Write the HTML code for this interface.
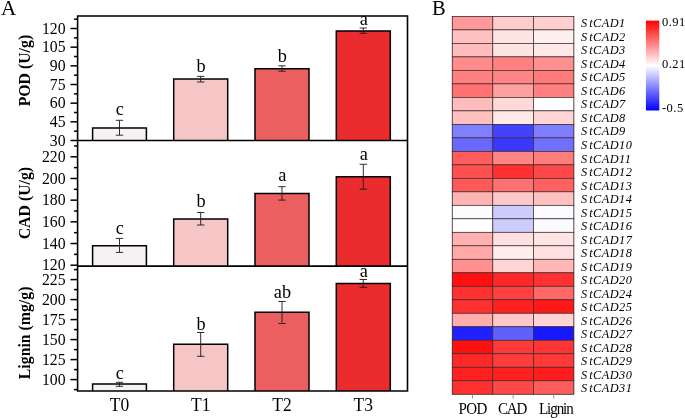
<!DOCTYPE html>
<html><head><meta charset="utf-8"><title>Figure</title>
<style>html,body{margin:0;padding:0;background:#fff;}body{width:685px;height:418px;overflow:hidden;}svg{display:block;will-change:transform;}text{font-family:"Liberation Serif",serif;fill:#000;}</style>
</head><body>
<svg width="685" height="418" viewBox="0 0 685 418">
<rect x="0" y="0" width="685" height="418" fill="#ffffff"/>
<rect x="92.60" y="128.00" width="53.80" height="12.50" fill="#f7f2f2"/>
<path d="M92.60 140.50V128.00H146.40V140.50" fill="none" stroke="#000" stroke-width="1.5" stroke-linejoin="miter"/>
<rect x="173.70" y="79.10" width="54.00" height="61.40" fill="#f6c5c5"/>
<path d="M173.70 140.50V79.10H227.70V140.50" fill="none" stroke="#000" stroke-width="1.5" stroke-linejoin="miter"/>
<rect x="255.00" y="68.70" width="54.00" height="71.80" fill="#ec5f60"/>
<path d="M255.00 140.50V68.70H309.00V140.50" fill="none" stroke="#000" stroke-width="1.5" stroke-linejoin="miter"/>
<rect x="336.30" y="30.90" width="54.00" height="109.60" fill="#eb2c2f"/>
<path d="M336.30 140.50V30.90H390.30V140.50" fill="none" stroke="#000" stroke-width="1.5" stroke-linejoin="miter"/>
<path d="M119.50 120.30V135.20M115.80 120.30H123.20M115.80 135.20H123.20" stroke="#1a1a1a" stroke-width="0.9" fill="none"/>
<path d="M200.70 76.40V82.00M197.00 76.40H204.40M197.00 82.00H204.40" stroke="#1a1a1a" stroke-width="0.9" fill="none"/>
<path d="M282.00 65.80V71.20M278.30 65.80H285.70M278.30 71.20H285.70" stroke="#1a1a1a" stroke-width="0.9" fill="none"/>
<path d="M363.30 28.00V33.30M359.60 28.00H367.00M359.60 33.30H367.00" stroke="#1a1a1a" stroke-width="0.9" fill="none"/>
<text x="119.90" y="114.90" font-size="18.3" text-anchor="middle">c</text>
<text x="201.10" y="71.70" font-size="18.3" text-anchor="middle">b</text>
<text x="282.40" y="61.90" font-size="18.3" text-anchor="middle">b</text>
<text x="363.70" y="25.10" font-size="18.3" text-anchor="middle">a</text>
<rect x="92.60" y="245.70" width="53.80" height="20.40" fill="#f7f2f2"/>
<path d="M92.60 266.10V245.70H146.40V266.10" fill="none" stroke="#000" stroke-width="1.5" stroke-linejoin="miter"/>
<rect x="173.70" y="218.90" width="54.00" height="47.20" fill="#f6c5c5"/>
<path d="M173.70 266.10V218.90H227.70V266.10" fill="none" stroke="#000" stroke-width="1.5" stroke-linejoin="miter"/>
<rect x="255.00" y="193.60" width="54.00" height="72.50" fill="#ec5f60"/>
<path d="M255.00 266.10V193.60H309.00V266.10" fill="none" stroke="#000" stroke-width="1.5" stroke-linejoin="miter"/>
<rect x="336.30" y="176.80" width="54.00" height="89.30" fill="#eb2c2f"/>
<path d="M336.30 266.10V176.80H390.30V266.10" fill="none" stroke="#000" stroke-width="1.5" stroke-linejoin="miter"/>
<path d="M119.50 238.40V252.40M115.80 238.40H123.20M115.80 252.40H123.20" stroke="#1a1a1a" stroke-width="0.9" fill="none"/>
<path d="M200.70 212.50V225.00M197.00 212.50H204.40M197.00 225.00H204.40" stroke="#1a1a1a" stroke-width="0.9" fill="none"/>
<path d="M282.00 186.70V200.10M278.30 186.70H285.70M278.30 200.10H285.70" stroke="#1a1a1a" stroke-width="0.9" fill="none"/>
<path d="M363.30 164.30V189.20M359.60 164.30H367.00M359.60 189.20H367.00" stroke="#1a1a1a" stroke-width="0.9" fill="none"/>
<text x="119.90" y="234.00" font-size="18.3" text-anchor="middle">c</text>
<text x="201.10" y="206.90" font-size="18.3" text-anchor="middle">b</text>
<text x="282.40" y="181.40" font-size="18.3" text-anchor="middle">a</text>
<text x="363.70" y="159.60" font-size="18.3" text-anchor="middle">a</text>
<rect x="92.60" y="384.10" width="53.80" height="6.85" fill="#f7f2f2"/>
<path d="M92.60 390.95V384.10H146.40V390.95" fill="none" stroke="#000" stroke-width="1.5" stroke-linejoin="miter"/>
<rect x="173.70" y="344.20" width="54.00" height="46.75" fill="#f6c5c5"/>
<path d="M173.70 390.95V344.20H227.70V390.95" fill="none" stroke="#000" stroke-width="1.5" stroke-linejoin="miter"/>
<rect x="255.00" y="312.20" width="54.00" height="78.75" fill="#ec5f60"/>
<path d="M255.00 390.95V312.20H309.00V390.95" fill="none" stroke="#000" stroke-width="1.5" stroke-linejoin="miter"/>
<rect x="336.30" y="283.40" width="54.00" height="107.55" fill="#eb2c2f"/>
<path d="M336.30 390.95V283.40H390.30V390.95" fill="none" stroke="#000" stroke-width="1.5" stroke-linejoin="miter"/>
<path d="M119.50 382.30V386.30M115.80 382.30H123.20M115.80 386.30H123.20" stroke="#1a1a1a" stroke-width="0.9" fill="none"/>
<path d="M200.70 332.50V356.30M197.00 332.50H204.40M197.00 356.30H204.40" stroke="#1a1a1a" stroke-width="0.9" fill="none"/>
<path d="M282.00 301.50V323.50M278.30 301.50H285.70M278.30 323.50H285.70" stroke="#1a1a1a" stroke-width="0.9" fill="none"/>
<path d="M363.30 279.50V287.40M359.60 279.50H367.00M359.60 287.40H367.00" stroke="#1a1a1a" stroke-width="0.9" fill="none"/>
<text x="119.90" y="378.70" font-size="18.3" text-anchor="middle">c</text>
<text x="201.10" y="329.70" font-size="18.3" text-anchor="middle">b</text>
<text x="282.40" y="297.80" font-size="18.3" text-anchor="middle">ab</text>
<text x="363.70" y="277.20" font-size="18.3" text-anchor="middle">a</text>
<path d="M77.6 16.0H407.5V390.95H77.6Z M77.6 140.5H407.5 M77.6 266.1H407.5" stroke="#000" stroke-width="1.6" fill="none"/>
<path d="M70.50 28.50H77.60" stroke="#000" stroke-width="1.5"/>
<text transform="translate(65.5,33.70) scale(0.944,1)" font-size="16.7" text-anchor="end">120</text>
<path d="M70.50 47.17H77.60" stroke="#000" stroke-width="1.5"/>
<text transform="translate(65.5,52.37) scale(0.944,1)" font-size="16.7" text-anchor="end">105</text>
<path d="M70.50 65.84H77.60" stroke="#000" stroke-width="1.5"/>
<text transform="translate(65.5,71.04) scale(0.944,1)" font-size="16.7" text-anchor="end">90</text>
<path d="M70.50 84.50H77.60" stroke="#000" stroke-width="1.5"/>
<text transform="translate(65.5,89.70) scale(0.944,1)" font-size="16.7" text-anchor="end">75</text>
<path d="M70.50 103.17H77.60" stroke="#000" stroke-width="1.5"/>
<text transform="translate(65.5,108.37) scale(0.944,1)" font-size="16.7" text-anchor="end">60</text>
<path d="M70.50 121.83H77.60" stroke="#000" stroke-width="1.5"/>
<text transform="translate(65.5,127.03) scale(0.944,1)" font-size="16.7" text-anchor="end">45</text>
<path d="M70.50 140.50H77.60" stroke="#000" stroke-width="1.5"/>
<text transform="translate(65.5,145.70) scale(0.944,1)" font-size="16.7" text-anchor="end">30</text>
<path d="M74.00 131.17H77.60" stroke="#000" stroke-width="1.5"/>
<path d="M74.00 112.50H77.60" stroke="#000" stroke-width="1.5"/>
<path d="M74.00 93.84H77.60" stroke="#000" stroke-width="1.5"/>
<path d="M74.00 75.17H77.60" stroke="#000" stroke-width="1.5"/>
<path d="M74.00 56.50H77.60" stroke="#000" stroke-width="1.5"/>
<path d="M74.00 37.84H77.60" stroke="#000" stroke-width="1.5"/>
<path d="M74.00 19.17H77.60" stroke="#000" stroke-width="1.5"/>
<path d="M70.50 156.80H77.60" stroke="#000" stroke-width="1.5"/>
<text transform="translate(65.5,162.00) scale(0.944,1)" font-size="16.7" text-anchor="end">220</text>
<path d="M70.50 178.48H77.60" stroke="#000" stroke-width="1.5"/>
<text transform="translate(65.5,183.68) scale(0.944,1)" font-size="16.7" text-anchor="end">200</text>
<path d="M70.50 200.16H77.60" stroke="#000" stroke-width="1.5"/>
<text transform="translate(65.5,205.36) scale(0.944,1)" font-size="16.7" text-anchor="end">180</text>
<path d="M70.50 221.84H77.60" stroke="#000" stroke-width="1.5"/>
<text transform="translate(65.5,227.04) scale(0.944,1)" font-size="16.7" text-anchor="end">160</text>
<path d="M70.50 243.52H77.60" stroke="#000" stroke-width="1.5"/>
<text transform="translate(65.5,248.72) scale(0.944,1)" font-size="16.7" text-anchor="end">140</text>
<path d="M70.50 265.20H77.60" stroke="#000" stroke-width="1.5"/>
<text transform="translate(65.5,270.40) scale(0.944,1)" font-size="16.7" text-anchor="end">120</text>
<path d="M74.00 254.36H77.60" stroke="#000" stroke-width="1.5"/>
<path d="M74.00 232.68H77.60" stroke="#000" stroke-width="1.5"/>
<path d="M74.00 211.00H77.60" stroke="#000" stroke-width="1.5"/>
<path d="M74.00 189.32H77.60" stroke="#000" stroke-width="1.5"/>
<path d="M74.00 167.64H77.60" stroke="#000" stroke-width="1.5"/>
<path d="M74.00 145.96H77.60" stroke="#000" stroke-width="1.5"/>
<path d="M70.50 279.60H77.60" stroke="#000" stroke-width="1.5"/>
<text transform="translate(65.5,284.80) scale(0.944,1)" font-size="16.7" text-anchor="end">225</text>
<path d="M70.50 299.60H77.60" stroke="#000" stroke-width="1.5"/>
<text transform="translate(65.5,304.80) scale(0.944,1)" font-size="16.7" text-anchor="end">200</text>
<path d="M70.50 319.60H77.60" stroke="#000" stroke-width="1.5"/>
<text transform="translate(65.5,324.80) scale(0.944,1)" font-size="16.7" text-anchor="end">175</text>
<path d="M70.50 339.60H77.60" stroke="#000" stroke-width="1.5"/>
<text transform="translate(65.5,344.80) scale(0.944,1)" font-size="16.7" text-anchor="end">150</text>
<path d="M70.50 359.60H77.60" stroke="#000" stroke-width="1.5"/>
<text transform="translate(65.5,364.80) scale(0.944,1)" font-size="16.7" text-anchor="end">125</text>
<path d="M70.50 379.60H77.60" stroke="#000" stroke-width="1.5"/>
<text transform="translate(65.5,384.80) scale(0.944,1)" font-size="16.7" text-anchor="end">100</text>
<path d="M74.00 389.60H77.60" stroke="#000" stroke-width="1.5"/>
<path d="M74.00 369.60H77.60" stroke="#000" stroke-width="1.5"/>
<path d="M74.00 349.60H77.60" stroke="#000" stroke-width="1.5"/>
<path d="M74.00 329.60H77.60" stroke="#000" stroke-width="1.5"/>
<path d="M74.00 309.60H77.60" stroke="#000" stroke-width="1.5"/>
<path d="M74.00 289.60H77.60" stroke="#000" stroke-width="1.5"/>
<path d="M74.00 269.60H77.60" stroke="#000" stroke-width="1.5"/>
<text transform="translate(30.3,70.6) rotate(-90)" font-size="15.8" font-weight="bold" text-anchor="middle">POD (U/g)</text>
<text transform="translate(30.3,203.1) rotate(-90)" font-size="15.8" font-weight="bold" text-anchor="middle">CAD (U/g)</text>
<text transform="translate(30.3,332.9) rotate(-90)" font-size="15.8" font-weight="bold" text-anchor="middle">Lignin (mg/g)</text>
<text transform="translate(119.50,411.0) scale(0.93,1)" font-size="18.8" text-anchor="middle">T0</text>
<text transform="translate(200.70,411.0) scale(0.93,1)" font-size="18.8" text-anchor="middle">T1</text>
<text transform="translate(282.00,411.0) scale(0.93,1)" font-size="18.8" text-anchor="middle">T2</text>
<text transform="translate(363.30,411.0) scale(0.93,1)" font-size="18.8" text-anchor="middle">T3</text>
<text transform="translate(1.0,14.9) scale(0.96,1)" font-size="22">A</text>
<text x="432.0" y="14.6" font-size="20.5">B</text>
<rect x="452.20" y="16.40" width="40.60" height="13.49" fill="#ff9999" stroke="#3a2a2a" stroke-width="0.7"/>
<rect x="492.80" y="16.40" width="40.70" height="13.49" fill="#ffcccc" stroke="#3a2a2a" stroke-width="0.7"/>
<rect x="533.50" y="16.40" width="40.40" height="13.49" fill="#ffcfcf" stroke="#3a2a2a" stroke-width="0.7"/>
<text transform="translate(581.0,27.35) scale(0.92,1)" font-size="13.4" font-style="italic" letter-spacing="0.5" fill="#111">S<tspan dx="1.75">tCAD1</tspan></text>
<rect x="452.20" y="29.89" width="40.60" height="13.49" fill="#ffc0c0" stroke="#3a2a2a" stroke-width="0.7"/>
<rect x="492.80" y="29.89" width="40.70" height="13.49" fill="#ffe4e4" stroke="#3a2a2a" stroke-width="0.7"/>
<rect x="533.50" y="29.89" width="40.40" height="13.49" fill="#fff0f0" stroke="#3a2a2a" stroke-width="0.7"/>
<text transform="translate(581.0,40.87) scale(0.92,1)" font-size="13.4" font-style="italic" letter-spacing="0.5" fill="#111">S<tspan dx="1.75">tCAD2</tspan></text>
<rect x="452.20" y="43.39" width="40.60" height="13.49" fill="#ffbcbc" stroke="#3a2a2a" stroke-width="0.7"/>
<rect x="492.80" y="43.39" width="40.70" height="13.49" fill="#ffe4e4" stroke="#3a2a2a" stroke-width="0.7"/>
<rect x="533.50" y="43.39" width="40.40" height="13.49" fill="#ffe8e8" stroke="#3a2a2a" stroke-width="0.7"/>
<text transform="translate(581.0,54.39) scale(0.92,1)" font-size="13.4" font-style="italic" letter-spacing="0.5" fill="#111">S<tspan dx="1.75">tCAD3</tspan></text>
<rect x="452.20" y="56.88" width="40.60" height="13.49" fill="#ff8c8c" stroke="#3a2a2a" stroke-width="0.7"/>
<rect x="492.80" y="56.88" width="40.70" height="13.49" fill="#ff8080" stroke="#3a2a2a" stroke-width="0.7"/>
<rect x="533.50" y="56.88" width="40.40" height="13.49" fill="#ff9090" stroke="#3a2a2a" stroke-width="0.7"/>
<text transform="translate(581.0,67.90) scale(0.92,1)" font-size="13.4" font-style="italic" letter-spacing="0.5" fill="#111">S<tspan dx="1.75">tCAD4</tspan></text>
<rect x="452.20" y="70.38" width="40.60" height="13.49" fill="#ff8080" stroke="#3a2a2a" stroke-width="0.7"/>
<rect x="492.80" y="70.38" width="40.70" height="13.49" fill="#ff8585" stroke="#3a2a2a" stroke-width="0.7"/>
<rect x="533.50" y="70.38" width="40.40" height="13.49" fill="#ff7b7b" stroke="#3a2a2a" stroke-width="0.7"/>
<text transform="translate(581.0,81.42) scale(0.92,1)" font-size="13.4" font-style="italic" letter-spacing="0.5" fill="#111">S<tspan dx="1.75">tCAD5</tspan></text>
<rect x="452.20" y="83.87" width="40.60" height="13.49" fill="#ff7070" stroke="#3a2a2a" stroke-width="0.7"/>
<rect x="492.80" y="83.87" width="40.70" height="13.49" fill="#ffa0a0" stroke="#3a2a2a" stroke-width="0.7"/>
<rect x="533.50" y="83.87" width="40.40" height="13.49" fill="#ff8080" stroke="#3a2a2a" stroke-width="0.7"/>
<text transform="translate(581.0,94.94) scale(0.92,1)" font-size="13.4" font-style="italic" letter-spacing="0.5" fill="#111">S<tspan dx="1.75">tCAD6</tspan></text>
<rect x="452.20" y="97.37" width="40.60" height="13.49" fill="#ffbcbc" stroke="#3a2a2a" stroke-width="0.7"/>
<rect x="492.80" y="97.37" width="40.70" height="13.49" fill="#ffd8d8" stroke="#3a2a2a" stroke-width="0.7"/>
<rect x="533.50" y="97.37" width="40.40" height="13.49" fill="#ffffff" stroke="#3a2a2a" stroke-width="0.7"/>
<text transform="translate(581.0,108.46) scale(0.92,1)" font-size="13.4" font-style="italic" letter-spacing="0.5" fill="#111">S<tspan dx="1.75">tCAD7</tspan></text>
<rect x="452.20" y="110.86" width="40.60" height="13.49" fill="#ffc0c0" stroke="#3a2a2a" stroke-width="0.7"/>
<rect x="492.80" y="110.86" width="40.70" height="13.49" fill="#ffe8e8" stroke="#3a2a2a" stroke-width="0.7"/>
<rect x="533.50" y="110.86" width="40.40" height="13.49" fill="#ffd4d4" stroke="#3a2a2a" stroke-width="0.7"/>
<text transform="translate(581.0,121.98) scale(0.92,1)" font-size="13.4" font-style="italic" letter-spacing="0.5" fill="#111">S<tspan dx="1.75">tCAD8</tspan></text>
<rect x="452.20" y="124.36" width="40.60" height="13.49" fill="#8080ff" stroke="#3a2a2a" stroke-width="0.7"/>
<rect x="492.80" y="124.36" width="40.70" height="13.49" fill="#4242ff" stroke="#3a2a2a" stroke-width="0.7"/>
<rect x="533.50" y="124.36" width="40.40" height="13.49" fill="#7e7eff" stroke="#3a2a2a" stroke-width="0.7"/>
<text transform="translate(581.0,135.49) scale(0.92,1)" font-size="13.4" font-style="italic" letter-spacing="0.5" fill="#111">S<tspan dx="1.75">tCAD9</tspan></text>
<rect x="452.20" y="137.85" width="40.60" height="13.49" fill="#6868ff" stroke="#3a2a2a" stroke-width="0.7"/>
<rect x="492.80" y="137.85" width="40.70" height="13.49" fill="#3838ff" stroke="#3a2a2a" stroke-width="0.7"/>
<rect x="533.50" y="137.85" width="40.40" height="13.49" fill="#7070ff" stroke="#3a2a2a" stroke-width="0.7"/>
<text transform="translate(581.0,149.01) scale(0.92,1)" font-size="13.4" font-style="italic" letter-spacing="0.5" fill="#111">S<tspan dx="1.75">tCAD10</tspan></text>
<rect x="452.20" y="151.35" width="40.60" height="13.49" fill="#ff5c5c" stroke="#3a2a2a" stroke-width="0.7"/>
<rect x="492.80" y="151.35" width="40.70" height="13.49" fill="#ff8484" stroke="#3a2a2a" stroke-width="0.7"/>
<rect x="533.50" y="151.35" width="40.40" height="13.49" fill="#ff7c7c" stroke="#3a2a2a" stroke-width="0.7"/>
<text transform="translate(581.0,162.53) scale(0.92,1)" font-size="13.4" font-style="italic" letter-spacing="0.5" fill="#111">S<tspan dx="1.75">tCAD11</tspan></text>
<rect x="452.20" y="164.84" width="40.60" height="13.49" fill="#ff5050" stroke="#3a2a2a" stroke-width="0.7"/>
<rect x="492.80" y="164.84" width="40.70" height="13.49" fill="#ff3030" stroke="#3a2a2a" stroke-width="0.7"/>
<rect x="533.50" y="164.84" width="40.40" height="13.49" fill="#ff4848" stroke="#3a2a2a" stroke-width="0.7"/>
<text transform="translate(581.0,176.05) scale(0.92,1)" font-size="13.4" font-style="italic" letter-spacing="0.5" fill="#111">S<tspan dx="1.75">tCAD12</tspan></text>
<rect x="452.20" y="178.34" width="40.60" height="13.49" fill="#ff5858" stroke="#3a2a2a" stroke-width="0.7"/>
<rect x="492.80" y="178.34" width="40.70" height="13.49" fill="#ff7070" stroke="#3a2a2a" stroke-width="0.7"/>
<rect x="533.50" y="178.34" width="40.40" height="13.49" fill="#ff6060" stroke="#3a2a2a" stroke-width="0.7"/>
<text transform="translate(581.0,189.57) scale(0.92,1)" font-size="13.4" font-style="italic" letter-spacing="0.5" fill="#111">S<tspan dx="1.75">tCAD13</tspan></text>
<rect x="452.20" y="191.83" width="40.60" height="13.49" fill="#ffb4b4" stroke="#3a2a2a" stroke-width="0.7"/>
<rect x="492.80" y="191.83" width="40.70" height="13.49" fill="#ffc8c8" stroke="#3a2a2a" stroke-width="0.7"/>
<rect x="533.50" y="191.83" width="40.40" height="13.49" fill="#ffc0c0" stroke="#3a2a2a" stroke-width="0.7"/>
<text transform="translate(581.0,203.08) scale(0.92,1)" font-size="13.4" font-style="italic" letter-spacing="0.5" fill="#111">S<tspan dx="1.75">tCAD14</tspan></text>
<rect x="452.20" y="205.33" width="40.60" height="13.49" fill="#fcfcff" stroke="#3a2a2a" stroke-width="0.7"/>
<rect x="492.80" y="205.33" width="40.70" height="13.49" fill="#ccccfe" stroke="#3a2a2a" stroke-width="0.7"/>
<rect x="533.50" y="205.33" width="40.40" height="13.49" fill="#fbfbff" stroke="#3a2a2a" stroke-width="0.7"/>
<text transform="translate(581.0,216.60) scale(0.92,1)" font-size="13.4" font-style="italic" letter-spacing="0.5" fill="#111">S<tspan dx="1.75">tCAD15</tspan></text>
<rect x="452.20" y="218.82" width="40.60" height="13.49" fill="#ffffff" stroke="#3a2a2a" stroke-width="0.7"/>
<rect x="492.80" y="218.82" width="40.70" height="13.49" fill="#ccccfe" stroke="#3a2a2a" stroke-width="0.7"/>
<rect x="533.50" y="218.82" width="40.40" height="13.49" fill="#fafaff" stroke="#3a2a2a" stroke-width="0.7"/>
<text transform="translate(581.0,230.12) scale(0.92,1)" font-size="13.4" font-style="italic" letter-spacing="0.5" fill="#111">S<tspan dx="1.75">tCAD16</tspan></text>
<rect x="452.20" y="232.31" width="40.60" height="13.49" fill="#ffb0b0" stroke="#3a2a2a" stroke-width="0.7"/>
<rect x="492.80" y="232.31" width="40.70" height="13.49" fill="#ffe0e0" stroke="#3a2a2a" stroke-width="0.7"/>
<rect x="533.50" y="232.31" width="40.40" height="13.49" fill="#ffe4e4" stroke="#3a2a2a" stroke-width="0.7"/>
<text transform="translate(581.0,243.64) scale(0.92,1)" font-size="13.4" font-style="italic" letter-spacing="0.5" fill="#111">S<tspan dx="1.75">tCAD17</tspan></text>
<rect x="452.20" y="245.81" width="40.60" height="13.49" fill="#ffa8a8" stroke="#3a2a2a" stroke-width="0.7"/>
<rect x="492.80" y="245.81" width="40.70" height="13.49" fill="#ffecec" stroke="#3a2a2a" stroke-width="0.7"/>
<rect x="533.50" y="245.81" width="40.40" height="13.49" fill="#ffe0e0" stroke="#3a2a2a" stroke-width="0.7"/>
<text transform="translate(581.0,257.16) scale(0.92,1)" font-size="13.4" font-style="italic" letter-spacing="0.5" fill="#111">S<tspan dx="1.75">tCAD18</tspan></text>
<rect x="452.20" y="259.30" width="40.60" height="13.49" fill="#ff9090" stroke="#3a2a2a" stroke-width="0.7"/>
<rect x="492.80" y="259.30" width="40.70" height="13.49" fill="#ffd4d4" stroke="#3a2a2a" stroke-width="0.7"/>
<rect x="533.50" y="259.30" width="40.40" height="13.49" fill="#ffb8b8" stroke="#3a2a2a" stroke-width="0.7"/>
<text transform="translate(581.0,270.67) scale(0.92,1)" font-size="13.4" font-style="italic" letter-spacing="0.5" fill="#111">S<tspan dx="1.75">tCAD19</tspan></text>
<rect x="452.20" y="272.80" width="40.60" height="13.49" fill="#ff1010" stroke="#3a2a2a" stroke-width="0.7"/>
<rect x="492.80" y="272.80" width="40.70" height="13.49" fill="#ff2828" stroke="#3a2a2a" stroke-width="0.7"/>
<rect x="533.50" y="272.80" width="40.40" height="13.49" fill="#ff3030" stroke="#3a2a2a" stroke-width="0.7"/>
<text transform="translate(581.0,284.19) scale(0.92,1)" font-size="13.4" font-style="italic" letter-spacing="0.5" fill="#111">S<tspan dx="1.75">tCAD20</tspan></text>
<rect x="452.20" y="286.29" width="40.60" height="13.49" fill="#ff3030" stroke="#3a2a2a" stroke-width="0.7"/>
<rect x="492.80" y="286.29" width="40.70" height="13.49" fill="#ff4040" stroke="#3a2a2a" stroke-width="0.7"/>
<rect x="533.50" y="286.29" width="40.40" height="13.49" fill="#ff6868" stroke="#3a2a2a" stroke-width="0.7"/>
<text transform="translate(581.0,297.71) scale(0.92,1)" font-size="13.4" font-style="italic" letter-spacing="0.5" fill="#111">S<tspan dx="1.75">tCAD24</tspan></text>
<rect x="452.20" y="299.79" width="40.60" height="13.49" fill="#ff3030" stroke="#3a2a2a" stroke-width="0.7"/>
<rect x="492.80" y="299.79" width="40.70" height="13.49" fill="#ff2020" stroke="#3a2a2a" stroke-width="0.7"/>
<rect x="533.50" y="299.79" width="40.40" height="13.49" fill="#ff1818" stroke="#3a2a2a" stroke-width="0.7"/>
<text transform="translate(581.0,311.23) scale(0.92,1)" font-size="13.4" font-style="italic" letter-spacing="0.5" fill="#111">S<tspan dx="1.75">tCAD25</tspan></text>
<rect x="452.20" y="313.28" width="40.60" height="13.49" fill="#ffacac" stroke="#3a2a2a" stroke-width="0.7"/>
<rect x="492.80" y="313.28" width="40.70" height="13.49" fill="#ffc8c8" stroke="#3a2a2a" stroke-width="0.7"/>
<rect x="533.50" y="313.28" width="40.40" height="13.49" fill="#ffd4d4" stroke="#3a2a2a" stroke-width="0.7"/>
<text transform="translate(581.0,324.75) scale(0.92,1)" font-size="13.4" font-style="italic" letter-spacing="0.5" fill="#111">S<tspan dx="1.75">tCAD26</tspan></text>
<rect x="452.20" y="326.78" width="40.60" height="13.49" fill="#2020ff" stroke="#3a2a2a" stroke-width="0.7"/>
<rect x="492.80" y="326.78" width="40.70" height="13.49" fill="#6060ff" stroke="#3a2a2a" stroke-width="0.7"/>
<rect x="533.50" y="326.78" width="40.40" height="13.49" fill="#1818ff" stroke="#3a2a2a" stroke-width="0.7"/>
<text transform="translate(581.0,338.26) scale(0.92,1)" font-size="13.4" font-style="italic" letter-spacing="0.5" fill="#111">S<tspan dx="1.75">tCAD27</tspan></text>
<rect x="452.20" y="340.27" width="40.60" height="13.49" fill="#ff1010" stroke="#3a2a2a" stroke-width="0.7"/>
<rect x="492.80" y="340.27" width="40.70" height="13.49" fill="#ff3838" stroke="#3a2a2a" stroke-width="0.7"/>
<rect x="533.50" y="340.27" width="40.40" height="13.49" fill="#ff3434" stroke="#3a2a2a" stroke-width="0.7"/>
<text transform="translate(581.0,351.78) scale(0.92,1)" font-size="13.4" font-style="italic" letter-spacing="0.5" fill="#111">S<tspan dx="1.75">tCAD28</tspan></text>
<rect x="452.20" y="353.77" width="40.60" height="13.49" fill="#ff2828" stroke="#3a2a2a" stroke-width="0.7"/>
<rect x="492.80" y="353.77" width="40.70" height="13.49" fill="#ff3c3c" stroke="#3a2a2a" stroke-width="0.7"/>
<rect x="533.50" y="353.77" width="40.40" height="13.49" fill="#ff3838" stroke="#3a2a2a" stroke-width="0.7"/>
<text transform="translate(581.0,365.30) scale(0.92,1)" font-size="13.4" font-style="italic" letter-spacing="0.5" fill="#111">S<tspan dx="1.75">tCAD29</tspan></text>
<rect x="452.20" y="367.26" width="40.60" height="13.49" fill="#ff2020" stroke="#3a2a2a" stroke-width="0.7"/>
<rect x="492.80" y="367.26" width="40.70" height="13.49" fill="#ff2020" stroke="#3a2a2a" stroke-width="0.7"/>
<rect x="533.50" y="367.26" width="40.40" height="13.49" fill="#ff1c1c" stroke="#3a2a2a" stroke-width="0.7"/>
<text transform="translate(581.0,378.82) scale(0.92,1)" font-size="13.4" font-style="italic" letter-spacing="0.5" fill="#111">S<tspan dx="1.75">tCAD30</tspan></text>
<rect x="452.20" y="380.76" width="40.60" height="13.49" fill="#ff3030" stroke="#3a2a2a" stroke-width="0.7"/>
<rect x="492.80" y="380.76" width="40.70" height="13.49" fill="#ff4848" stroke="#3a2a2a" stroke-width="0.7"/>
<rect x="533.50" y="380.76" width="40.40" height="13.49" fill="#ff5c5c" stroke="#3a2a2a" stroke-width="0.7"/>
<text transform="translate(581.0,392.34) scale(0.92,1)" font-size="13.4" font-style="italic" letter-spacing="0.5" fill="#111">S<tspan dx="1.75">tCAD31</tspan></text>
<rect x="452.2" y="16.4" width="121.70" height="377.85" fill="none" stroke="#3a2a2a" stroke-width="0.3"/>
<path d="M472.50 394.25V398.45" stroke="#888" stroke-width="0.9"/>
<text transform="translate(472.60,413.5) scale(0.91,1)" font-size="16.5" text-anchor="middle" letter-spacing="-0.66">POD</text>
<path d="M513.15 394.25V398.45" stroke="#888" stroke-width="0.9"/>
<text transform="translate(512.00,413.5) scale(0.91,1)" font-size="16.5" text-anchor="middle" letter-spacing="-1.3">CAD</text>
<path d="M553.70 394.25V398.45" stroke="#888" stroke-width="0.9"/>
<text transform="translate(555.80,413.5) scale(0.91,1)" font-size="16.5" text-anchor="middle" letter-spacing="-1.15">Lignin</text>
<defs><linearGradient id="cb" x1="0" y1="0" x2="0" y2="1"><stop offset="0" stop-color="#ff0000"/><stop offset="0.5" stop-color="#ffffff"/><stop offset="1" stop-color="#0000ff"/></linearGradient></defs>
<rect x="645.9" y="20.6" width="13.4" height="89.9" fill="url(#cb)"/>
<text x="662.0" y="26.40" font-size="12.5" letter-spacing="0.45">0.91</text>
<text x="662.0" y="68.20" font-size="12.5" letter-spacing="0.45">0.21</text>
<text x="662.0" y="111.50" font-size="12.5" letter-spacing="0.45">-0.5</text>
</svg></body></html>
